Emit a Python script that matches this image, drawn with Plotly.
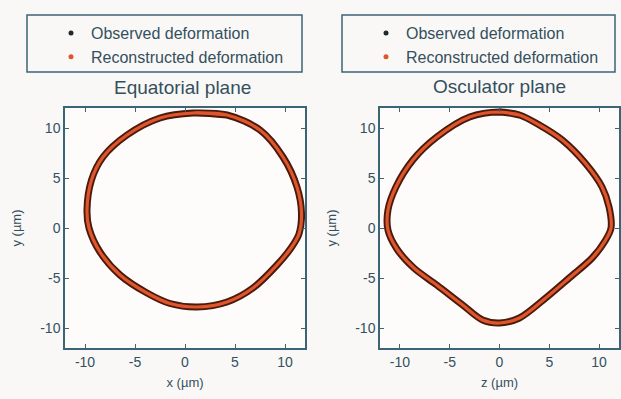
import plotly.graph_objects as go

# Equatorial plane (x, y) in µm (closed contour)
eq_obs_x = [0.8, 4.2, 7.5, 9.8, 11.2, 11.65, 11.4, 10.6, 9.2, 6.8, 4.2, 1.2,
            -1.5, -3.8, -6.5, -8.5, -9.6, -9.8, -9.35, -8.2, -5.8, -2.5, 0.8, 4.2]
eq_obs_y = [11.5, 11.3, 9.8, 7.1, 4.1, 1.5, -0.6, -2.0, -3.7, -6.0, -7.4, -7.9,
            -7.55, -6.5, -4.7, -2.4, 0.0, 1.8, 4.8, 7.1, 9.3, 11.0, 11.5, 11.3]
eq_rec_x = eq_obs_x
eq_rec_y = eq_obs_y

# Osculator plane (z, y) in µm (closed contour)
os_obs_x = [0.0, 2.0, 4.0, 6.3, 8.6, 10.3, 11.0, 11.2, 10.6, 9.3, 7.0, 4.4, 2.0, 0.0,
            -1.7, -3.7, -6.3, -8.6, -10.3, -11.2, -11.2, -10.4, -8.7, -6.3, -3.0, 0.0, 2.0]
os_obs_y = [11.6, 11.3, 10.3, 8.8, 6.5, 4.1, 2.1, 0.0, -1.3, -3.0, -5.0, -7.2, -9.0, -9.5,
            -9.2, -7.7, -5.7, -4.0, -2.1, -0.2, 1.8, 4.1, 6.8, 9.1, 11.1, 11.6, 11.3]
os_rec_x = os_obs_x
os_rec_y = os_obs_y

tick_vals = [-10, -5, 0, 5, 10]
tick_text = ["-10", "-5", "0", "5", "10"]
titles = ["Equatorial plane", "Osculator plane"]
x_titles = ["x (µm)", "z (µm)"]
y_title = "y (µm)"
names = ["Observed deformation", "Reconstructed deformation"]

W, H = 621, 399
ink = "#33505e"
line_c = "#3b6474"
obs_c = "#4a1a0c"
rec_c = "#e0562c"
FONT = "Liberation Sans, Arial, sans-serif"

fig = go.Figure()

panels = [
    ("x", "y", eq_obs_x, eq_obs_y, eq_rec_x, eq_rec_y, "legend"),
    ("x2", "y2", os_obs_x, os_obs_y, os_rec_x, os_rec_y, "legend2"),
]
for xa, ya, ox, oy, rx, ry, lg in panels:
    fig.add_trace(go.Scatter(x=ox, y=oy, xaxis=xa, yaxis=ya, mode="lines",
                             line=dict(color=obs_c, width=7, shape="spline", smoothing=0.9),
                             showlegend=False, hoverinfo="skip"))
    fig.add_trace(go.Scatter(x=rx, y=ry, xaxis=xa, yaxis=ya, mode="lines",
                             line=dict(color=rec_c, width=3.2, shape="spline", smoothing=0.9),
                             showlegend=False, hoverinfo="skip"))
    fig.add_trace(go.Scatter(x=[None], y=[None], xaxis=xa, yaxis=ya, mode="markers",
                             marker=dict(color="#1f2a30", size=5), name=names[0], legend=lg))
    fig.add_trace(go.Scatter(x=[None], y=[None], xaxis=xa, yaxis=ya, mode="markers",
                             marker=dict(color=rec_c, size=5), name=names[1], legend=lg))

def px(x):
    return x / W

def py(y):
    return 1 - y / H

ydom = [py(348), py(108)]
xdoms = [[px(65), px(305)], [px(380), px(619)]]

axis_common = dict(range=[-12, 12], tickvals=tick_vals, ticktext=tick_text,
                   ticks="inside", ticklen=4, tickcolor=line_c, showline=True,
                   linecolor=line_c, linewidth=1.5, mirror="ticks", showgrid=False,
                   zeroline=False, tickfont=dict(size=14, color=ink, family=FONT))

leg_common = dict(xanchor="left", yanchor="top", bgcolor="rgba(0,0,0,0)",
                  font=dict(size=16, color=ink, family=FONT), tracegroupgap=0)

xt = dict(font=dict(size=13), standoff=9)
yt = dict(font=dict(size=13), standoff=16)

fig.update_layout(
    width=W, height=H,
    margin=dict(l=0, r=0, t=0, b=0),
    paper_bgcolor="#faf8f6", plot_bgcolor="#fdfcfb",
    font=dict(family=FONT, color=ink),
    xaxis=dict(domain=xdoms[0], anchor="y", title=dict(text=x_titles[0], **xt), **axis_common),
    yaxis=dict(domain=ydom, anchor="x", title=dict(text=y_title, **yt), **axis_common),
    xaxis2=dict(domain=xdoms[1], anchor="y2", title=dict(text=x_titles[1], **xt), **axis_common),
    yaxis2=dict(domain=ydom, anchor="x2", title=dict(text=y_title, **yt), **axis_common),
    legend=dict(x=px(51), y=py(16), **leg_common),
    legend2=dict(x=px(366), y=py(16), **leg_common),
    shapes=[
        dict(type="rect", xref="paper", yref="paper", x0=px(27), x1=px(302), y0=py(72), y1=py(15),
             line=dict(color=line_c, width=1.5)),
        dict(type="rect", xref="paper", yref="paper", x0=px(342), x1=px(615), y0=py(72), y1=py(15),
             line=dict(color=line_c, width=1.5)),
    ],
    annotations=[
        dict(text=titles[0], xref="paper", yref="paper", x=px(182), y=py(87), showarrow=False,
             font=dict(size=19, color=ink, family=FONT), xanchor="center", yanchor="middle"),
        dict(text=titles[1], xref="paper", yref="paper", x=px(499), y=py(86), showarrow=False,
             font=dict(size=19, color=ink, family=FONT), xanchor="center", yanchor="middle"),
    ],
)

fig.write_html("out.html", config={"displayModeBar": False},
               post_script="document.body.style.margin='0';document.body.style.overflow='hidden';")
